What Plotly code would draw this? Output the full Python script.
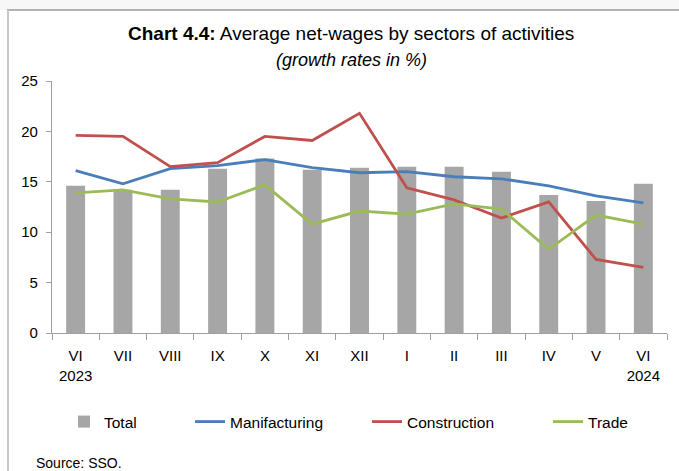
import plotly.graph_objects as go

months = ["VI", "VII", "VIII", "IX", "X", "XI", "XII", "I", "II", "III", "IV", "V", "VI"]
years = ["2023", "", "", "", "", "", "", "", "", "", "", "", "2024"]
categories = [f"{m}|{i}" for i, m in enumerate(months)]
tick_labels = [m + ("<br>" + y if y else "") for m, y in zip(months, years)]

total = [14.6, 14.2, 14.2, 16.3, 17.3, 16.2, 16.4, 16.5, 16.5, 16.0, 13.7, 13.1, 14.8]
manufacturing = [16.1, 14.8, 16.3, 16.6, 17.2, 16.4, 15.9, 16.0, 15.5, 15.3, 14.6, 13.6, 12.9]
construction = [19.6, 19.5, 16.5, 16.9, 19.5, 19.1, 21.8, 14.4, 13.2, 11.4, 13.0, 7.3, 6.5]
trade = [13.9, 14.2, 13.3, 13.0, 14.7, 10.8, 12.1, 11.8, 12.8, 12.3, 8.3, 11.7, 10.8]

FONT = "Liberation Sans"
W, H = 679, 471
L, R, T, B = 52, 12, 81, 138
PW, PH = W - L - R, H - T - B


def px(x):
    return (x - L) / PW


def py(y):
    return (H - B - y) / PH


fig = go.Figure()
fig.add_trace(go.Bar(x=categories, y=total, name="Total", marker_color="#a6a6a6",
                     marker_line_width=0, legend="legend"))
fig.add_trace(go.Scatter(x=categories, y=manufacturing, name="Manifacturing", mode="lines",
                         line=dict(color="#4a7ebb", width=2.8), legend="legend2"))
fig.add_trace(go.Scatter(x=categories, y=construction, name="Construction", mode="lines",
                         line=dict(color="#c0504d", width=2.8), legend="legend3"))
fig.add_trace(go.Scatter(x=categories, y=trade, name="Trade", mode="lines",
                         line=dict(color="#9bbb59", width=2.8), legend="legend4"))

shapes = [
    dict(type="rect", xref="paper", yref="paper", x0=px(-5), x1=px(W + 5), y0=py(10), y1=py(-5),
         fillcolor="#f7f7f7", line=dict(width=0), layer="below"),
    dict(type="line", xref="paper", yref="paper", x0=px(7), x1=px(W + 5), y0=py(10), y1=py(10),
         line=dict(color="#9a9a9a", width=1.5)),
    dict(type="line", xref="paper", yref="paper", x0=px(8), x1=px(8), y0=py(10), y1=py(H + 5),
         line=dict(color="#c8c8c8", width=2)),
]

annotations = [
    dict(text="<b>Chart 4.4:</b> Average net-wages by sectors of activities", xref="paper", yref="paper",
         x=px(351), y=py(33), xanchor="center", yanchor="middle", showarrow=False,
         font=dict(family=FONT, size=19, color="#000000")),
    dict(text="<i>(growth rates in %)</i>", xref="paper", yref="paper",
         x=px(351), y=py(60), xanchor="center", yanchor="middle", showarrow=False,
         font=dict(family=FONT, size=18, color="#000000")),
    dict(text="Source: SSO.", xref="paper", yref="paper",
         x=px(34), y=py(463), xanchor="left", yanchor="middle", showarrow=False,
         font=dict(family=FONT, size=14, color="#000000")),
]


def leg(text_start):
    return dict(orientation="h", x=px(text_start - 40), y=py(422), xanchor="left", yanchor="middle",
                font=dict(family=FONT, size=15.5), bgcolor="rgba(0,0,0,0)", borderwidth=0)


fig.update_layout(
    width=W, height=H,
    margin=dict(l=L, r=R, t=T, b=B, pad=0),
    paper_bgcolor="white", plot_bgcolor="white",
    font=dict(family=FONT, size=14, color="#000000"),
    bargap=0.6,
    showlegend=True,
    legend=leg(104),
    legend2=leg(230),
    legend3=leg(407),
    legend4=leg(588),
    shapes=shapes,
    annotations=annotations,
)
fig.update_xaxes(type="category", tickmode="array", tickvals=categories, ticktext=tick_labels,
                 tickson="boundaries", ticks="outside", ticklen=6, tickcolor="#a0a0a0",
                 showline=True, linecolor="#a0a0a0", linewidth=1.2, showgrid=False,
                 ticklabelstandoff=9,
                 tickfont=dict(family=FONT, size=15), range=[-0.5, 12.5])
fig.update_yaxes(range=[0, 25], dtick=5, ticks="outside", ticklen=5, tickcolor="#a0a0a0",
                 showline=True, linecolor="#a0a0a0", linewidth=1.2, showgrid=False, zeroline=False,
                 ticklabelstandoff=5,
                 tickfont=dict(family=FONT, size=15))

fig.write_html("out.html", config={"displayModeBar": False})

# remove the browser's default 8px body margin so the figure sits at the page origin
with open("out.html", encoding="utf-8") as f:
    html = f.read()
html = html.replace("<body>", '<body style="margin:0;padding:0;">', 1)
with open("out.html", "w", encoding="utf-8") as f:
    f.write(html)
